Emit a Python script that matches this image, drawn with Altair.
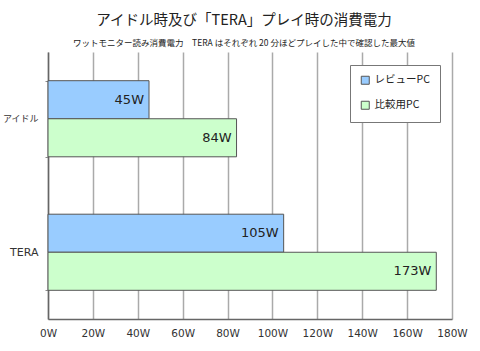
import altair as alt
import pandas as pd

categories = ["アイドル", "アイドル", "TERA", "TERA"]
series = ["レビューPC", "比較用PC", "レビューPC", "比較用PC"]
values = [45, 84, 105, 173]
labels = ["45W", "84W", "105W", "173W"]

series_order = ["レビューPC", "比較用PC"]
colors = ["#99ccff", "#ccffcc"]
cat_order = ["アイドル", "TERA"]

df = pd.DataFrame({"cat": categories, "series": series, "value": values, "label": labels})

FONT = "DejaVu Sans, Noto Sans CJK JP"

y_enc = alt.Y("cat:N", sort=cat_order, title=None,
              scale=alt.Scale(paddingInner=0.43, paddingOuter=0.215),
              axis=alt.Axis(tickBand="extent", tickSize=3, tickColor="#888",
                            domainColor="#666", domainWidth=1.5,
                            labelFont=FONT,
                            labelFontSize={"condition": {"test": "datum.value == 'TERA'", "value": 11}, "value": 9},
                            labelColor="#333",
                            labelPadding=7, grid=False))
yoff = alt.YOffset("series:N", sort=series_order)

bars = alt.Chart(df).mark_bar(stroke="#555", strokeWidth=1).encode(
    x=alt.X("value:Q", title=None,
            scale=alt.Scale(domain=[0, 180], nice=False),
            axis=alt.Axis(values=list(range(0, 181, 20)),
                          labelExpr="datum.value + 'W'",
                          labelOverlap=False, labelFlush=False,
                          grid=True, gridColor="#aaaaaa", gridWidth=1.5,
                          domainColor="#666", domainWidth=1.5,
                          ticks=False, labelPadding=9,
                          labelFont=FONT, labelFontSize=10.5, labelColor="#333")),
    y=y_enc,
    yOffset=yoff,
    color=alt.Color("series:N", sort=series_order,
                    scale=alt.Scale(domain=series_order, range=colors),
                    legend=alt.Legend(title=None, orient="none", legendX=302, legendY=13,
                                      fillColor="white", strokeColor="#777",
                                      padding=10, rowPadding=12,
                                      symbolType="square", symbolSize=64,
                                      symbolStrokeColor="#555", symbolStrokeWidth=1,
                                      labelFont="Noto Sans CJK JP", labelFontSize=10.5,
                                      labelColor="#222")),
)

text = alt.Chart(df).mark_text(align="right", baseline="middle", dx=-5,
                               font=FONT, fontSize=13, color="#222").encode(
    x=alt.X("value:Q"),
    y=alt.Y("cat:N", sort=cat_order),
    yOffset=yoff,
    text="label:N",
)

chart = (bars + text).properties(
    width=404, height=267,
    autosize=alt.AutoSizeParams(type="none"),
    padding={"left": 48, "top": 52, "right": 28, "bottom": 32},
    title=alt.TitleParams(
        text="アイドル時及び「TERA」プレイ時の消費電力",
        subtitle="ワットモニター読み消費電力　TERA はそれぞれ 20 分ほどプレイした中で確認した最大値",
        font="Noto Sans CJK JP", fontSize=14.5, fontWeight="normal", color="#222",
        subtitleFont="Noto Sans CJK JP", subtitleFontSize=8.5, subtitleColor="#222",
        subtitlePadding=10, anchor="middle", offset=0, dx=-6,
    ),
).configure_view(stroke=None)

chart.save("out.html", embed_options={"renderer": "svg", "actions": False})
